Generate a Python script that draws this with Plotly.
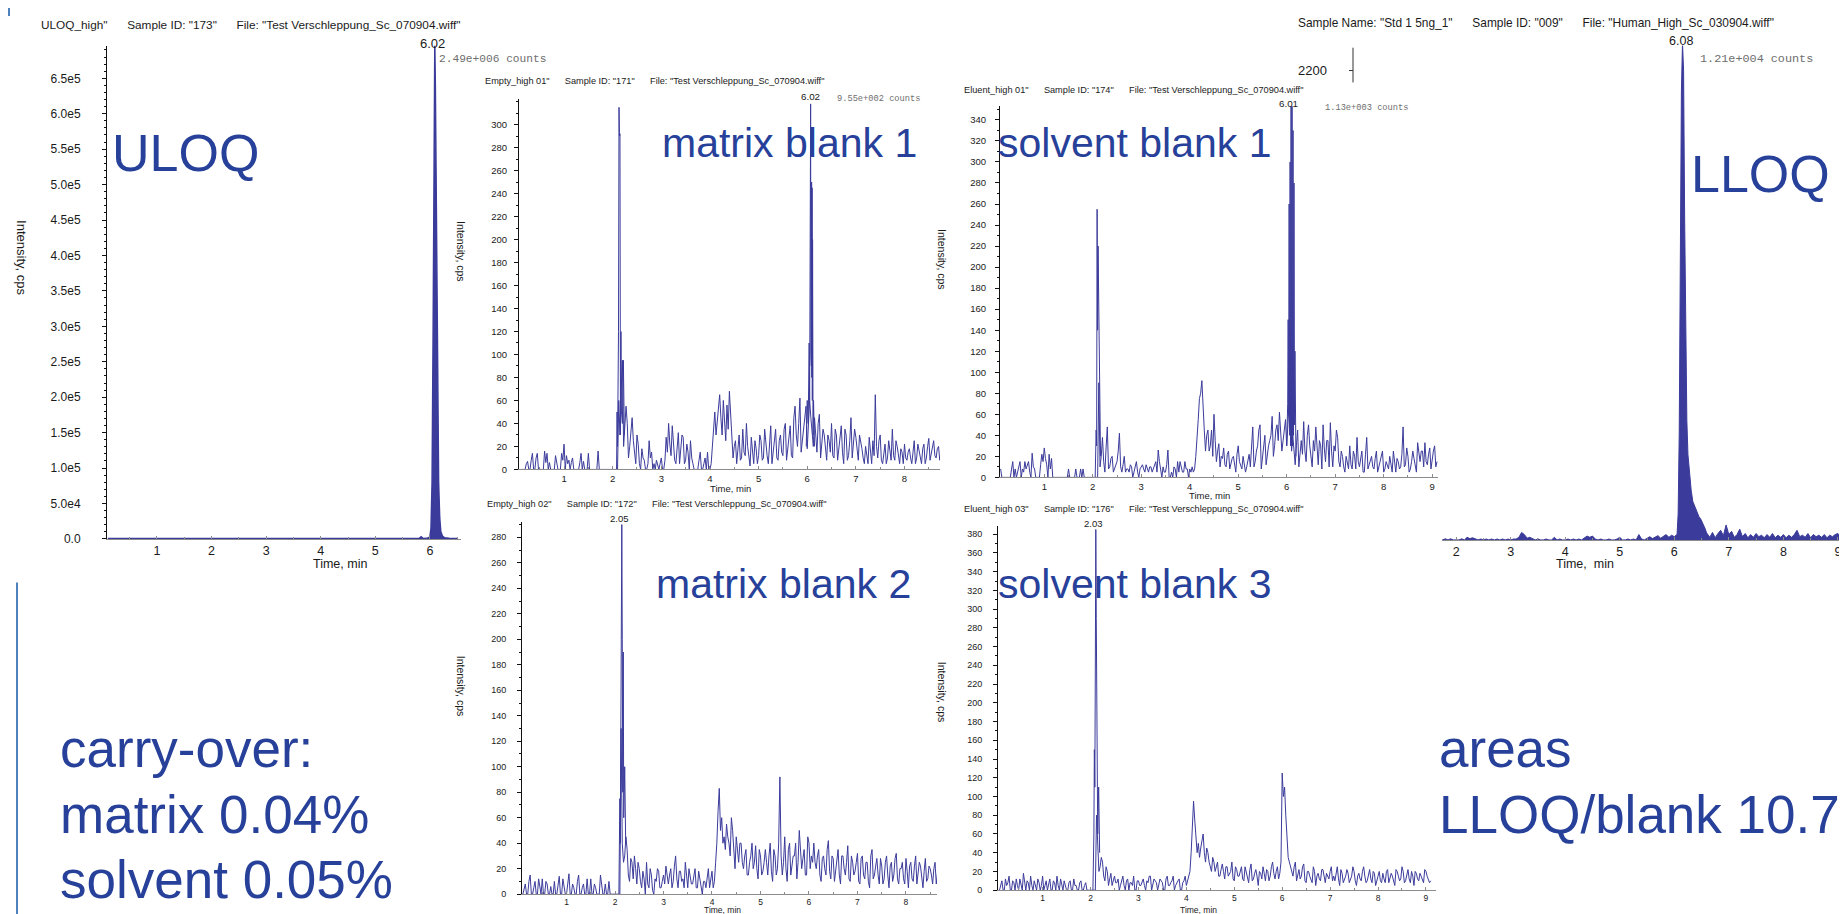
import plotly.graph_objects as go

W, H = 1847, 914

# ------------------------------------------------------------------ data
scan_times = [
    0.10, 0.15, 0.20, 0.25, 0.30, 0.35, 0.40, 0.45, 0.50, 0.55, 0.60, 0.65, 0.70, 0.75, 0.80, 0.85, 0.90, 0.95, 1.00, 1.05,
    1.10, 1.15, 1.20, 1.25, 1.30, 1.35, 1.40, 1.45, 1.50, 1.55, 1.60, 1.65, 1.70, 1.75, 1.80, 1.85, 1.90, 1.95, 2.00, 2.05,
    2.10, 2.15, 2.20, 2.25, 2.30, 2.35, 2.40, 2.45, 2.50, 2.55, 2.60, 2.65, 2.70, 2.75, 2.80, 2.85, 2.90, 2.95, 3.00, 3.05,
    3.10, 3.15, 3.20, 3.25, 3.30, 3.35, 3.40, 3.45, 3.50, 3.55, 3.60, 3.65, 3.70, 3.75, 3.80, 3.85, 3.90, 3.95, 4.00, 4.05,
    4.10, 4.15, 4.20, 4.25, 4.30, 4.35, 4.40, 4.45, 4.50, 4.55, 4.60, 4.65, 4.70, 4.75, 4.80, 4.85, 4.90, 4.95, 5.00, 5.05,
    5.10, 5.15, 5.20, 5.25, 5.30, 5.35, 5.40, 5.45, 5.50, 5.55, 5.60, 5.65, 5.70, 5.75, 5.80, 5.85, 5.90, 5.95, 6.00, 6.05,
    6.10, 6.15, 6.20, 6.25, 6.30, 6.35, 6.40, 6.45, 6.50, 6.55, 6.60, 6.65, 6.70, 6.75, 6.80, 6.85, 6.90, 6.95, 7.00, 7.05,
    7.10, 7.15, 7.20, 7.25, 7.30, 7.35, 7.40, 7.45, 7.50, 7.55, 7.60, 7.65, 7.70, 7.75, 7.80, 7.85, 7.90, 7.95, 8.00, 8.05,
    8.10, 8.15, 8.20, 8.25, 8.30, 8.35, 8.40, 8.45, 8.50, 8.55, 8.60, 8.65, 8.70, 8.75, 8.80, 8.85, 8.90, 8.95, 9.00, 9.05,
    9.10,
]
# intermediate scans (half-way between the ones above)
scan_times_b = [
    0.125, 0.175, 0.225, 0.275, 0.325, 0.375, 0.425, 0.475, 0.525, 0.575, 0.625, 0.675, 0.725, 0.775, 0.825, 0.875, 0.925, 0.975, 1.025, 1.075,
    1.125, 1.175, 1.225, 1.275, 1.325, 1.375, 1.425, 1.475, 1.525, 1.575, 1.625, 1.675, 1.725, 1.775, 1.825, 1.875, 1.925, 1.975, 2.025, 2.075,
    2.125, 2.175, 2.225, 2.275, 2.325, 2.375, 2.425, 2.475, 2.525, 2.575, 2.625, 2.675, 2.725, 2.775, 2.825, 2.875, 2.925, 2.975, 3.025, 3.075,
    3.125, 3.175, 3.225, 3.275, 3.325, 3.375, 3.425, 3.475, 3.525, 3.575, 3.625, 3.675, 3.725, 3.775, 3.825, 3.875, 3.925, 3.975, 4.025, 4.075,
    4.125, 4.175, 4.225, 4.275, 4.325, 4.375, 4.425, 4.475, 4.525, 4.575, 4.625, 4.675, 4.725, 4.775, 4.825, 4.875, 4.925, 4.975, 5.025, 5.075,
    5.125, 5.175, 5.225, 5.275, 5.325, 5.375, 5.425, 5.475, 5.525, 5.575, 5.625, 5.675, 5.725, 5.775, 5.825, 5.875, 5.925, 5.975, 6.025, 6.075,
    6.125, 6.175, 6.225, 6.275, 6.325, 6.375, 6.425, 6.475, 6.525, 6.575, 6.625, 6.675, 6.725, 6.775, 6.825, 6.875, 6.925, 6.975, 7.025, 7.075,
    7.125, 7.175, 7.225, 7.275, 7.325, 7.375, 7.425, 7.475, 7.525, 7.575, 7.625, 7.675, 7.725, 7.775, 7.825, 7.875, 7.925, 7.975, 8.025, 8.075,
    8.125, 8.175, 8.225, 8.275, 8.325, 8.375, 8.425, 8.475, 8.525, 8.575, 8.625, 8.675, 8.725, 8.775, 8.825, 8.875, 8.925, 8.975, 9.025, 9.075,
]

# ULOQ (high standard)
uloq_times = [0.10, 1.00, 1.95, 2.00, 2.05, 3.00, 4.00, 5.00, 5.80, 5.84, 5.88, 5.95, 6.00, 6.02, 6.04,
              6.06, 6.08, 6.09, 6.10, 6.12, 6.14, 6.16, 6.18, 6.20, 6.23, 6.27, 6.35, 6.50]
uloq_cps = [500, 500, 500, 1500, 500, 500, 500, 500, 500, 3000, 500, 800, 3000, 15000, 80000,
            300000, 620000, 700000, 640000, 420000, 200000, 80000, 30000, 10000, 4000, 1500, 800, 500]

# matrix blank 1
mb1_noise = [
    0, 0, 0, 7, 0, 14, 0, 14, 0, 0, 16, 14, 6, 0, 0, 7, 0, 14, 22, 12,
    8, 6, 0, 0, 0, 14, 7, 0, 14, 0, 0, 0, 16, 0, 0, 0, 0, 0, 0, 0,
    0, 30, 95, 35, 40, 20, 45, 12, 30, 5, 18, 8, 0, 25, 15, 5, 8, 0, 10, 0,
    28, 40, 12, 25, 5, 32, 18, 28, 8, 15, 25, 5, 0, 0, 15, 0, 10, 15, 0, 20,
    50, 40, 65, 30, 45, 56, 68, 30, 20, 5, 30, 10, 15, 40, 8, 28, 5, 18, 12, 25,
    10, 22, 5, 38, 15, 35, 8, 30, 12, 40, 18, 38, 10, 55, 20, 62, 25, 45, 18, 60,
    30, 45, 15, 48, 20, 30, 8, 25, 40, 10, 30, 18, 38, 5, 30, 12, 45, 20, 28, 8,
    25, 10, 20, 5, 15, 25, 65, 10, 30, 5, 22, 10, 15, 35, 8, 20, 5, 15, 22, 8,
    18, 5, 25, 10, 15, 5, 22, 10, 27, 15, 25, 10, 20, 12, 18, 8, 20, 10, 15, 8,
    10,
]
mb1_noise_b = [
    0, 0, 5, 0, 8, 0, 10, 0, 0, 0, 6, 0, 0, 0, 12, 0, 0, 8, 0, 5,
    0, 10, 0, 0, 6, 0, 0, 0, 0, 0, 0, 0, 0, 0, 0, 0, 0, 0, 0, 0,
    60, 70, 20, 55, 10, 30, 25, 5, 22, 0, 10, 0, 5, 10, 0, 0, 3, 5, 0, 8,
    15, 22, 38, 8, 20, 5, 30, 5, 22, 0, 10, 0, 0, 8, 0, 5, 0, 0, 5, 35,
    30, 55, 45, 60, 25, 35, 45, 10, 25, 15, 8, 35, 12, 20, 3, 12, 25, 5, 30, 8,
    35, 12, 20, 5, 30, 10, 25, 15, 35, 8, 30, 12, 45, 30, 40, 15, 35, 55, 40, 45,
    20, 25, 40, 10, 35, 15, 30, 15, 12, 35, 8, 25, 15, 35, 8, 25, 10, 35, 15, 30,
    18, 5, 12, 28, 5, 12, 20, 25, 8, 15, 5, 25, 8, 12, 25, 10, 18, 5, 10, 15,
    10, 15, 5, 22, 8, 18, 5, 20, 8, 22, 12, 18, 8, 20, 10, 15, 12, 8, 18, 10,
]
mb1_peak2_times = [2.08, 2.09, 2.10, 2.12, 2.13, 2.14, 2.15, 2.16, 2.17, 2.18, 2.20, 2.22, 2.24]
mb1_peak2_cps = [0, 50, 20, 120, 315, 290, 292, 30, 120, 50, 40, 95, 30]
mb1_peak6_times = [5.98, 6.00, 6.02, 6.04, 6.05, 6.06, 6.065, 6.07, 6.075, 6.08, 6.085, 6.09, 6.095,
                   6.10, 6.105, 6.11, 6.12, 6.13, 6.15]
mb1_peak6_cps = [20, 60, 40, 110, 60, 250, 120, 318, 100, 248, 90, 250, 80,
                 245, 60, 200, 30, 60, 20]

# solvent blank 1
sb1_noise = [
    8, 0, 0, 0, 0, 15, 8, 5, 15, 8, 15, 12, 5, 23, 8, 0, 0, 22, 28, 12,
    22, 18, 0, 0, 0, 0, 0, 0, 8, 0, 0, 8, 0, 8, 8, 0, 0, 0, 0, 0,
    0, 10, 38, 5, 48, 10, 20, 8, 15, 42, 5, 20, 8, 5, 10, 5, 15, 0, 10, 8,
    12, 5, 10, 8, 15, 26, 5, 10, 5, 26, 0, 0, 8, 15, 15, 5, 15, 8, 8, 10,
    8, 35, 75, 92, 45, 40, 25, 45, 60, 15, 32, 20, 28, 10, 25, 15, 20, 5, 30, 12,
    20, 5, 18, 10, 48, 15, 30, 50, 20, 40, 25, 35, 58, 30, 50, 62, 25, 45, 30, 70,
    25, 20, 30, 10, 35, 53, 15, 50, 20, 35, 48, 12, 30, 50, 15, 35, 52, 10, 25, 38,
    10, 20, 5, 15, 30, 8, 20, 38, 10, 25, 5, 38, 12, 20, 8, 25, 10, 18, 5, 15,
    8, 12, 25, 5, 15, 10, 48, 12, 20, 8, 25, 10, 33, 15, 25, 33, 12, 28, 18, 30,
    15,
]
sb1_noise_b = [
    0, 0, 0, 0, 8, 0, 0, 12, 0, 5, 8, 15, 0, 10, 0, 0, 12, 15, 18, 0,
    8, 0, 0, 0, 0, 0, 0, 0, 0, 0, 0, 0, 0, 0, 0, 0, 0, 0, 0, 0,
    90, 20, 15, 28, 8, 18, 5, 12, 25, 10, 12, 5, 8, 12, 0, 8, 5, 8, 12, 5,
    8, 10, 5, 12, 5, 15, 0, 5, 12, 0, 5, 10, 0, 5, 10, 5, 8, 0, 5, 5,
    20, 55, 80, 60, 25, 45, 30, 20, 35, 25, 10, 18, 12, 22, 8, 18, 10, 22, 15, 8,
    12, 10, 22, 30, 10, 25, 45, 8, 30, 12, 30, 40, 20, 45, 35, 40, 35, 55, 50, 60,
    40, 12, 45, 20, 22, 25, 40, 30, 10, 25, 22, 35, 8, 28, 35, 10, 25, 30, 45, 15,
    25, 10, 20, 8, 12, 25, 8, 15, 20, 5, 22, 8, 15, 10, 18, 5, 12, 25, 8, 10,
    20, 5, 12, 18, 8, 22, 10, 28, 5, 15, 18, 5, 20, 25, 10, 15, 22, 8, 25, 10,
]
sb1_peak2_times = [2.05, 2.07, 2.08, 2.09, 2.10, 2.11, 2.12, 2.13, 2.14, 2.16]
sb1_peak2_cps = [0, 45, 30, 255, 140, 220, 180, 125, 120, 20]
sb1_peak6_times = [6.00, 6.02, 6.03, 6.04, 6.05, 6.06, 6.07, 6.08, 6.09, 6.10, 6.11, 6.12,
                   6.13, 6.14, 6.15, 6.16, 6.17, 6.19]
sb1_peak6_cps = [30, 70, 150, 60, 260, 40, 300, 30, 353, 25, 360, 30,
                 330, 40, 280, 50, 120, 20]

# LLOQ (lowest standard)
lloq_noise = [
    0, 0, 0, 0, 0, 0, 0, 0, 0, 0, 0, 0, 0, 0, 0, 0, 0, 0, 0, 0,
    0, 0, 0, 0, 0, 0, 0, 0, 0, 0, 0, 0, 0, 0, 5, 0, 5, 0, 0, 0,
    5, 0, 12, 6, 10, 4, 0, 4, 0, 4, 0, 4, 0, 4, 0, 4, 0, 4, 0, 4,
    4, 12, 35, 25, 8, 12, 4, 0, 4, 0, 0, 4, 0, 0, 12, 0, 4, 0, 0, 4,
    0, 4, 0, 4, 0, 8, 18, 12, 18, 4, 0, 4, 0, 0, 4, 0, 0, 4, 12, 0,
    0, 4, 0, 4, 0, 25, 4, 0, 8, 15, 6, 12, 20, 8, 15, 25, 12, 22, 15, 25,
    15, 15, 15, 15, 15, 15, 15, 15, 15, 15, 30, 12, 35, 10, 30, 45, 20, 70, 25, 40,
    12, 25, 50, 15, 30, 10, 25, 12, 30, 15, 22, 10, 25, 12, 30, 10, 22, 12, 25, 10,
    22, 12, 25, 45, 15, 22, 12, 30, 10, 25, 15, 22, 12, 25, 10, 22, 15, 25, 30, 12,
    20,
]
lloq_peak_times = [6.05, 6.07, 6.09, 6.11, 6.13, 6.15, 6.17, 6.19, 6.21, 6.23, 6.25, 6.28,
                   6.31, 6.34, 6.37, 6.41, 6.45, 6.49, 6.53, 6.57, 6.60]
lloq_peak_cps = [25, 120, 500, 1400, 2100, 2330, 2200, 1500, 900, 560, 400, 290,
                 230, 180, 160, 130, 110, 95, 75, 50, 25]

# matrix blank 2
mb2_noise = [
    0, 8, 0, 15, 0, 10, 0, 5, 12, 0, 8, 0, 0, 10, 0, 14, 0, 7, 0, 16,
    0, 5, 0, 15, 0, 8, 0, 0, 12, 0, 5, 0, 15, 0, 8, 0, 0, 0, 0, 0,
    0, 40, 30, 35, 10, 25, 30, 8, 20, 5, 12, 25, 5, 15, 0, 10, 18, 5, 15, 22,
    8, 20, 10, 30, 5, 18, 12, 25, 5, 15, 8, 20, 5, 12, 0, 10, 15, 5, 18, 10,
    40, 83, 60, 45, 55, 40, 60, 30, 45, 25, 40, 20, 35, 15, 30, 20, 38, 12, 30, 18,
    35, 15, 40, 10, 30, 20, 92, 15, 45, 10, 40, 22, 30, 12, 50, 20, 35, 15, 40, 30,
    40, 20, 35, 10, 30, 15, 42, 12, 28, 20, 35, 8, 30, 15, 38, 10, 25, 18, 32, 8,
    30, 12, 25, 5, 35, 15, 28, 8, 22, 12, 30, 5, 25, 15, 32, 8, 20, 12, 28, 5,
    25, 10, 30, 15, 22, 5, 28, 12, 20, 8, 25, 15, 20, 10, 25, 8, 15, 10, 20, 5,
    10,
]
mb2_noise_b = [
    5, 0, 10, 0, 5, 0, 12, 0, 0, 10, 0, 6, 0, 0, 8, 0, 12, 0, 10, 0,
    8, 0, 10, 0, 5, 0, 12, 0, 0, 8, 0, 0, 6, 0, 0, 10, 0, 0, 0, 0,
    130, 25, 45, 15, 28, 12, 20, 25, 10, 18, 0, 8, 20, 3, 12, 20, 5, 10, 8, 15,
    15, 5, 22, 12, 18, 10, 5, 15, 20, 8, 15, 5, 18, 8, 10, 5, 20, 12, 5, 25,
    65, 50, 40, 35, 45, 30, 50, 20, 35, 40, 25, 30, 15, 25, 40, 25, 20, 35, 15, 25,
    25, 30, 18, 35, 15, 40, 30, 25, 20, 35, 15, 30, 40, 25, 35, 28, 15, 45, 20, 25,
    25, 30, 15, 28, 20, 35, 18, 30, 10, 25, 15, 30, 20, 25, 12, 30, 15, 25, 10, 28,
    15, 25, 10, 30, 12, 22, 15, 28, 8, 25, 15, 22, 10, 28, 12, 20, 25, 8, 18, 22,
    12, 22, 8, 25, 12, 18, 10, 22, 15, 20, 8, 25, 12, 18, 10, 15, 20, 12, 8, 15,
]
mb2_peak2_times = [2.08, 2.10, 2.11, 2.12, 2.13, 2.14, 2.15, 2.16, 2.17, 2.18, 2.20, 2.22]
mb2_peak2_cps = [0, 75, 40, 195, 120, 290, 200, 80, 190, 60, 100, 40]

# solvent blank 3
sb3_noise = [
    0, 10, 0, 5, 15, 0, 8, 12, 0, 5, 18, 0, 8, 15, 0, 5, 12, 0, 15, 5,
    0, 12, 0, 8, 15, 0, 5, 10, 0, 8, 0, 12, 5, 0, 10, 0, 8, 0, 0, 0,
    0, 40, 25, 30, 10, 20, 12, 5, 15, 8, 0, 12, 5, 10, 0, 8, 15, 0, 10, 5,
    12, 0, 8, 15, 5, 10, 0, 12, 8, 0, 15, 5, 10, 0, 8, 12, 0, 10, 5, 15,
    40, 95, 60, 50, 45, 60, 30, 40, 25, 35, 20, 30, 15, 28, 12, 25, 18, 30, 10, 22,
    15, 25, 10, 20, 8, 28, 12, 22, 5, 18, 25, 10, 20, 15, 30, 12, 25, 18, 125, 110,
    50, 30, 20, 25, 10, 22, 15, 28, 8, 20, 12, 25, 5, 18, 10, 22, 8, 15, 20, 10,
    10, 25, 5, 18, 12, 22, 8, 15, 20, 5, 18, 10, 25, 8, 15, 12, 20, 5, 15, 10,
    18, 8, 22, 12, 15, 5, 20, 10, 25, 8, 15, 12, 20, 5, 18, 10, 15, 8, 20, 12,
    10,
]
sb3_noise_b = [
    5, 0, 12, 8, 0, 10, 0, 5, 12, 0, 8, 10, 0, 5, 10, 0, 8, 5, 0, 10,
    5, 0, 10, 0, 5, 12, 0, 5, 0, 10, 0, 5, 0, 8, 0, 5, 0, 0, 0, 0,
    80, 20, 35, 15, 25, 5, 18, 10, 8, 12, 5, 15, 0, 12, 8, 5, 0, 10, 5, 8,
    5, 10, 15, 0, 12, 8, 5, 10, 0, 12, 5, 8, 15, 5, 10, 0, 8, 15, 10, 20,
    70, 75, 40, 35, 55, 40, 45, 30, 20, 30, 25, 15, 22, 20, 25, 15, 20, 12, 25, 15,
    20, 12, 25, 15, 22, 10, 18, 15, 20, 12, 18, 22, 10, 25, 18, 20, 12, 30, 100, 80,
    35, 25, 15, 30, 18, 12, 25, 10, 20, 15, 8, 20, 15, 12, 22, 15, 18, 12, 25, 15,
    20, 12, 22, 8, 15, 18, 12, 25, 10, 15, 12, 20, 15, 10, 22, 8, 18, 12, 20, 8,
    12, 20, 8, 18, 10, 22, 15, 12, 20, 10, 22, 8, 15, 20, 12, 18, 10, 22, 15, 8,
]
sb3_peak2_times = [2.05, 2.07, 2.08, 2.09, 2.10, 2.11, 2.12, 2.13, 2.14, 2.15, 2.17, 2.19]
sb3_peak2_cps = [0, 60, 150, 110, 236, 385, 290, 236, 140, 60, 110, 40]

# tick labels
uloq_yticks = [0, 5e4, 1e5, 1.5e5, 2e5, 2.5e5, 3e5, 3.5e5, 4e5, 4.5e5, 5e5, 5.5e5, 6e5, 6.5e5]
uloq_ytick_labels = ['0.0', '5.0e4', '1.0e5', '1.5e5', '2.0e5', '2.5e5', '3.0e5', '3.5e5',
                     '4.0e5', '4.5e5', '5.0e5', '5.5e5', '6.0e5', '6.5e5']
mb1_yticks = [0, 20, 40, 60, 80, 100, 120, 140, 160, 180, 200, 220, 240, 260, 280, 300]
sb1_yticks = [0, 20, 40, 60, 80, 100, 120, 140, 160, 180, 200, 220, 240, 260, 280, 300, 320, 340]
mb2_yticks = [0, 20, 40, 60, 80, 100, 120, 140, 160, 180, 200, 220, 240, 260, 280]
sb3_yticks = [0, 20, 40, 60, 80, 100, 120, 140, 160, 180, 200, 220, 240, 260, 280, 300, 320, 340, 360, 380]
xticks_6 = [1, 2, 3, 4, 5, 6]
xticks_8 = [1, 2, 3, 4, 5, 6, 7, 8]
xticks_9 = [1, 2, 3, 4, 5, 6, 7, 8, 9]
xticks_lloq = [2, 3, 4, 5, 6, 7, 8, 9]

peak_label_text = ['6.02', '6.02', '6.01', '6.08', '2.05', '2.03']
peak_label_time = [6.04, 6.06, 6.03, 6.12, 2.10, 2.07]
count_labels = ['2.49e+006 counts', '9.55e+002 counts', '1.13e+003 counts', '1.21e+004 counts']

# ------------------------------------------------------------------ style
TRACE = '#3b3b9b'
TXT = '#1a1a1a'
BIG = '#27419a'
SANS = 'Liberation Sans, Arial, sans-serif'
MONO = 'Liberation Mono, Courier New, monospace'
GAP = '\u00a0' * 6


def ax_id(n, letter):
    return letter if n == 1 else f'{letter}{n}'


def merged(t_a, v_a, t_b, v_b):
    pairs = sorted(zip(list(t_a) + list(t_b), list(v_a) + list(v_b)))
    return [p[0] for p in pairs], [p[1] for p in pairs]


def make_x(n, x0, x1, rng, ticks, fs):
    return dict(domain=[x0 / W, x1 / W], range=list(rng), anchor=ax_id(n, 'y'),
                showgrid=False, zeroline=False, showline=True, linecolor='#8c8c8c', linewidth=1,
                ticks='inside', ticklen=3, tickcolor='#8c8c8c', tickmode='array', tickvals=ticks,
                tickfont=dict(family=SANS, size=fs, color=TXT),
                minor=dict(ticks='inside', ticklen=2, tickcolor='#8c8c8c', dtick=0.5, tick0=0, showgrid=False),
                fixedrange=True)


def make_y(n, top, bottom, rng, ticks, texts, fs, minor_dt, standoff, visible=True):
    d = dict(domain=[1 - bottom / H, 1 - top / H], range=list(rng), anchor=ax_id(n, 'x'),
             showgrid=False, zeroline=False, fixedrange=True)
    if not visible:
        d.update(showline=False, showticklabels=False, ticks='')
        return d
    d.update(showline=True, linecolor='#111111', linewidth=1, ticks='outside', ticklen=4,
             tickcolor='#111111', tickmode='array', tickvals=ticks,
             tickfont=dict(family=SANS, size=fs, color=TXT), ticklabelstandoff=standoff,
             minor=dict(ticks='outside', ticklen=2, tickcolor='#111111', dtick=minor_dt, tick0=0, showgrid=False))
    if texts is not None:
        d['ticktext'] = texts
    return d


fig = go.Figure()

layout_axes = {}
# 1 ULOQ
layout_axes['xaxis'] = make_x(1, 99, 453, (0.084, 6.57), xticks_6, 12.5)
layout_axes['yaxis'] = make_y(1, 38, 535, (0, 6.96e5), uloq_yticks, uloq_ytick_labels, 12, 1e4, 19)
# 2 matrix blank 1
layout_axes['xaxis2'] = make_x(2, 511, 932, (0.074, 8.73), xticks_8, 9.5)
layout_axes['yaxis2'] = make_y(2, 92, 465, (0, 322), mb1_yticks, None, 9.5, 10, 5)
# 3 solvent blank 1
layout_axes['xaxis3'] = make_x(3, 992, 1430, (0.087, 9.12), xticks_9, 9.5)
layout_axes['yaxis3'] = make_y(3, 99, 473, (0, 353), sb1_yticks, None, 9.5, 10, 7)
# 4 LLOQ
layout_axes['xaxis4'] = make_x(4, 1434, 1837, (1.74, 9.13), xticks_lloq, 12.5)
layout_axes['yaxis4'] = make_y(4, 38, 536, (0, 2316), None, None, 12, 100, 0, visible=False)
# 5 matrix blank 2
layout_axes['xaxis5'] = make_x(5, 514, 929, (0.082, 8.64), xticks_8, 8.5)
layout_axes['yaxis5'] = make_y(5, 518, 893, (0, 292), mb2_yticks, None, 9, 10, 9)
# 6 solvent blank 3
layout_axes['xaxis6'] = make_x(6, 990, 1428, (0.069, 9.21), xticks_9, 8.5)
layout_axes['yaxis6'] = make_y(6, 522, 889, (0, 388.7), sb3_yticks, None, 9, 10, 9)


def add(n, x, y, fill=False, width=1.0):
    fig.add_trace(go.Scatter(x=x, y=y, mode='lines', xaxis=ax_id(n, 'x'), yaxis=ax_id(n, 'y'),
                             line=dict(color=TRACE, width=width), fill='tozeroy' if fill else None,
                             fillcolor=TRACE, hoverinfo='skip', showlegend=False))


add(1, uloq_times, uloq_cps, fill=True, width=1.5)
add(2, *merged(scan_times, mb1_noise, scan_times_b, mb1_noise_b))
add(2, mb1_peak2_times, mb1_peak2_cps)
add(2, mb1_peak6_times, mb1_peak6_cps)
add(3, *merged(scan_times, sb1_noise, scan_times_b, sb1_noise_b))
add(3, sb1_peak2_times, sb1_peak2_cps)
add(3, sb1_peak6_times, sb1_peak6_cps)
add(4, scan_times, lloq_noise, fill=True)
add(4, lloq_peak_times, lloq_peak_cps, fill=True)
add(5, *merged(scan_times, mb2_noise, scan_times_b, mb2_noise_b))
add(5, mb2_peak2_times, mb2_peak2_cps)
add(6, *merged(scan_times, sb3_noise, scan_times_b, sb3_noise_b))
add(6, sb3_peak2_times, sb3_peak2_cps)

ann = []


def note(text, x, y, size, color=TXT, family=SANS, xanchor='left', yanchor='middle', angle=0):
    ann.append(dict(text=text, x=x / W, y=1 - y / H, xref='paper', yref='paper', xanchor=xanchor,
                    yanchor=yanchor, showarrow=False, textangle=angle,
                    font=dict(family=family, size=size, color=color)))


# headers
note(GAP.join(['ULOQ_high"', 'Sample ID: "173"', 'File: "Test Verschleppung_Sc_070904.wiff"']), 31, 17, 11.8)
note(GAP.join(['Empty_high 01"', 'Sample ID: "171"', 'File: "Test Verschleppung_Sc_070904.wiff"']), 475, 74, 9.2)
note(GAP.join(['Eluent_high 01"', 'Sample ID: "174"', 'File: "Test Verschleppung_Sc_070904.wiff"']), 954, 83, 9.2)
note(GAP.join(['Sample Name: "Std 1 5ng_1"', 'Sample ID: "009"', 'File: "Human_High_Sc_030904.wiff"']), 1288, 15, 11.9)
note(GAP.join(['Empty_high 02"', 'Sample ID: "172"', 'File: "Test Verschleppung_Sc_070904.wiff"']), 477, 500, 9.2)
note(GAP.join(['Eluent_high 03"', 'Sample ID: "176"', 'File: "Test Verschleppung_Sc_070904.wiff"']), 954, 505, 9.2)

# counts labels
note(count_labels[0], 429, 51, 11.2, color='#6e6e6e', family=MONO)
note(count_labels[1], 827, 92, 8.7, color='#6e6e6e', family=MONO)
note(count_labels[2], 1315, 101, 8.7, color='#6e6e6e', family=MONO)
note(count_labels[3], 1690, 51, 11.8, color='#6e6e6e', family=MONO)

# peak labels (x in data coordinates)
peak_axes = [1, 2, 3, 4, 5, 6]
peak_y = [36, 89, 96, 33, 514, 519]
peak_fs = [13, 9.8, 9.8, 12.5, 9.5, 9.5]
for i, n in enumerate(peak_axes):
    ann.append(dict(text=peak_label_text[i], x=peak_label_time[i], xref=ax_id(n, 'x'),
                    y=1 - peak_y[i] / H, yref='paper', xanchor='center', yanchor='middle',
                    showarrow=False, font=dict(family=SANS, size=peak_fs[i], color=TXT)))

# axis titles
note('Time, min', 332, 560, 12.5, xanchor='center')
note('Time, min', 722, 484, 9.5, xanchor='center')
note('Time, min', 1201, 491, 9.5, xanchor='center')
note('Time,\u00a0 min', 1577, 560, 12.5, xanchor='center')
note('Time, min', 714, 909, 8.5, xanchor='center')
note('Time, min', 1190, 909, 8.5, xanchor='center')
note('Intensity, cps', 14, 251, 13, xanchor='center', angle=90)
note('Intensity, cps', 453, 245, 10.5, xanchor='center', angle=90)
note('Intensity, cps', 934, 253, 10.5, xanchor='center', angle=90)
note('Intensity, cps', 453, 683, 10.5, xanchor='center', angle=90)
note('Intensity, cps', 934, 689, 10.5, xanchor='center', angle=90)

# LLOQ hidden axis remnant
note('2200', 1321, 63, 13, xanchor='right')

# big slide labels
note('ULOQ', 102, 146, 52, color=BIG)
note('matrix blank 1', 652, 136, 41, color=BIG)
note('solvent blank 1', 988, 136, 41, color=BIG)
note('LLOQ', 1681, 167, 52, color=BIG)
note('matrix blank 2', 646, 580, 41, color=BIG)
note('solvent blank 3', 988, 580, 41, color=BIG)
note('carry-over:', 50, 746, 53, color=BIG)
note('matrix 0.04%', 50, 813, 53, color=BIG)
note('solvent 0.05%', 50, 878, 53, color=BIG)
note('areas', 1429, 746, 53, color=BIG)
note('LLOQ/blank 10.7', 1429, 813, 53, color=BIG)

shapes = [
    dict(type='line', xref='paper', yref='paper', x0=1345 / W, x1=1345 / W, y0=1 - 40 / H, y1=1 - 75 / H,
         line=dict(color='#333333', width=1)),
    dict(type='line', xref='paper', yref='paper', x0=1341 / W, x1=1345 / W, y0=1 - 63 / H, y1=1 - 63 / H,
         line=dict(color='#333333', width=1)),
    dict(type='line', xref='paper', yref='paper', x0=9 / W, x1=9 / W, y0=1 - 579 / H, y1=0,
         line=dict(color='#4f81bd', width=2)),
    dict(type='line', xref='paper', yref='paper', x0=1 / W, x1=1 / W, y0=1, y1=1 - 8 / H,
         line=dict(color='#4f81bd', width=2)),
]

fig.update_layout(width=W, height=H, autosize=False, margin=dict(l=0, r=0, t=0, b=0),
                  paper_bgcolor='white', plot_bgcolor='white', showlegend=False,
                  annotations=ann, shapes=shapes, **layout_axes)

fig.write_html('out.html')
